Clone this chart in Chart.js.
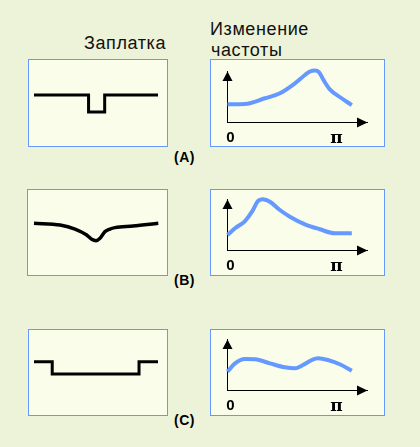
<!DOCTYPE html>
<html><head><meta charset="utf-8">
<script src="https://cdn.jsdelivr.net/npm/chart.js@4"></script>
<style>
html,body{margin:0;padding:0;}
body{width:420px;height:447px;background:#ecf3d8;position:relative;overflow:hidden;font-family:"Liberation Sans",Arial,sans-serif;}
.box{position:absolute;box-sizing:border-box;border:1px solid #6699ff;background:#fafde9;}
.box canvas{position:absolute;left:-1px;top:-1px;}
.t{position:absolute;white-space:nowrap;color:#111;font-size:18px;line-height:18px;letter-spacing:0.6px;}
.lab{position:absolute;white-space:nowrap;color:#000;font-weight:bold;font-size:14px;line-height:14px;letter-spacing:0.5px;}
</style></head>
<body>
<div class="t" style="left:84px;top:34px">Заплатка</div>
<div class="t" style="left:210px;top:20px">Изменение</div>
<div class="t" style="left:211px;top:41px">частоты</div>
<div class="lab" style="left:174px;top:150px">(A)</div>
<div class="lab" style="left:174px;top:273px">(B)</div>
<div class="lab" style="left:174px;top:413px">(C)</div>

<div class="box" style="left:28px;top:59px;width:140px;height:88px"><canvas id="pA" width="140" height="88"></canvas></div>
<div class="box" style="left:210px;top:59px;width:175px;height:88px"><canvas id="fA" width="175" height="88"></canvas></div>
<div class="box" style="left:27px;top:189px;width:141px;height:87px"><canvas id="pB" width="141" height="87"></canvas></div>
<div class="box" style="left:210px;top:189px;width:175px;height:87px"><canvas id="fB" width="175" height="87"></canvas></div>
<div class="box" style="left:28px;top:329px;width:140px;height:87px"><canvas id="pC" width="140" height="87"></canvas></div>
<div class="box" style="left:210px;top:329px;width:175px;height:87px"><canvas id="fC" width="175" height="87"></canvas></div>

<script>
// Patch profiles (position along the line 0..1, relative depth)
const PATCH_A_X = [0, 0.44, 0.44, 0.57, 0.57, 1];
const PATCH_A_Y = [0, 0, -1, -1, 0, 0];
const PATCH_B_X = [0, 0.21, 0.33, 0.424, 0.464, 0.499, 0.531, 0.571, 0.611, 0.652, 0.796, 1];
const PATCH_B_Y = [0, -0.1, -0.33, -0.67, -0.92, -1, -0.86, -0.48, -0.33, -0.25, -0.16, 0];
const PATCH_C_X = [0, 0.147, 0.147, 0.847, 0.847, 1];
const PATCH_C_Y = [0, 0, -1, -1, 0, 0];

// Frequency change curves (frequency in units of pi, relative change)
const FREQ_A_X = [0, 0.165, 0.353, 0.494, 0.636, 0.730, 0.777, 0.824, 0.862, 0.909, 0.965, 1.059, 1.172];
const FREQ_A_Y = [0.357, 0.363, 0.475, 0.573, 0.769, 0.931, 1.0, 1.02, 0.99, 0.82, 0.65, 0.5, 0.34];
const FREQ_B_X = [0, 0.071, 0.165, 0.231, 0.287, 0.334, 0.400, 0.494, 0.588, 0.730, 0.871, 1.012, 1.172];
const FREQ_B_Y = [0.304, 0.435, 0.578, 0.761, 0.97, 1.004, 0.957, 0.794, 0.663, 0.514, 0.416, 0.337, 0.337];
const FREQ_C_X = [0, 0.071, 0.165, 0.259, 0.400, 0.541, 0.636, 0.711, 0.796, 0.852, 0.946, 1.059, 1.172];
const FREQ_C_Y = [0.369, 0.533, 0.618, 0.612, 0.533, 0.455, 0.435, 0.5, 0.598, 0.631, 0.598, 0.514, 0.388];

const TICK_VALUES = [0, 1];
const TICK_LABELS = ['0', 'π'];

function pts(xs, ys){ return xs.map((x, i) => ({x: x, y: ys[i]})); }

const arrowPlugin = {
  id: 'arrows',
  afterDraw(chart){
    const a = chart.chartArea, ctx = chart.ctx;
    ctx.save();
    ctx.fillStyle = '#000';
    ctx.beginPath();
    ctx.moveTo(a.left, a.top);
    ctx.lineTo(a.left - 5, a.top + 9.5);
    ctx.lineTo(a.left + 5, a.top + 9.5);
    ctx.closePath(); ctx.fill();
    ctx.beginPath();
    ctx.moveTo(a.right, a.bottom);
    ctx.lineTo(a.right - 10.5, a.bottom - 5);
    ctx.lineTo(a.right - 10.5, a.bottom + 5);
    ctx.closePath(); ctx.fill();
    ctx.restore();
  }
};

const common = {
  responsive: false, animation: false, events: [], devicePixelRatio: 1,
  plugins: {legend: {display: false}, tooltip: {enabled: false}}
};

function patchChart(id, xs, ys, pad, smooth, width){
  new Chart(document.getElementById(id), {
    type: 'line',
    data: {datasets: [{
      data: pts(xs, ys), borderColor: '#000', borderWidth: width, pointRadius: 0,
      cubicInterpolationMode: smooth ? 'monotone' : 'default', tension: 0,
      fill: false, clip: false, borderJoinStyle: 'miter', borderCapStyle: 'butt'
    }]},
    options: Object.assign({}, common, {
      layout: {padding: pad},
      scales: {
        x: {type: 'linear', display: false, min: 0, max: 1},
        y: {type: 'linear', display: false, min: -1, max: 0}
      }
    })
  });
}

function freqChart(id, xs, ys, pad, axisH){
  new Chart(document.getElementById(id), {
    type: 'line',
    data: {datasets: [{
      data: pts(xs, ys), borderColor: '#6699ff', borderWidth: 4, pointRadius: 0,
      cubicInterpolationMode: 'monotone', fill: false, clip: false
    }]},
    options: Object.assign({}, common, {
      layout: {padding: pad},
      scales: {
        x: {
          type: 'linear', min: 0, max: 1.32,
          grid: {display: false, drawTicks: false},
          border: {display: true, color: '#000', width: 1},
          afterFit(s){ s.height = axisH; },
          afterBuildTicks(s){ s.ticks = TICK_VALUES.map(v => ({value: v})); },
          ticks: {
            autoSkip: false, maxRotation: 0, minRotation: 0, labelOffset: 3, padding: 6, color: '#000',
            font: (c) => c.index === 0
              ? {family: 'Liberation Sans', size: 15, weight: 'bold'}
              : {family: 'DejaVu Serif', size: 17, weight: 'bold'},
            callback: (v, i) => TICK_LABELS[i]
          }
        },
        y: {
          type: 'linear', min: 0, max: 1,
          grid: {display: false, drawTicks: false},
          border: {display: true, color: '#000', width: 1},
          ticks: {display: false},
          afterFit(s){ s.width = 0; }
        }
      }
    }),
    plugins: [arrowPlugin]
  });
}

patchChart('pA', PATCH_A_X, PATCH_A_Y, {left: 6, right: 10, top: 36, bottom: 35}, false, 3);
patchChart('pB', PATCH_B_X, PATCH_B_Y, {left: 7, right: 9.7, top: 34.3, bottom: 35.3}, true, 3.5);
patchChart('pC', PATCH_C_X, PATCH_C_Y, {left: 6, right: 10, top: 32.7, bottom: 42}, false, 3);

freqChart('fA', FREQ_A_X, FREQ_A_Y, {left: 17.5, right: 17.5, top: 12.5, bottom: 0}, 24.5);
freqChart('fB', FREQ_B_X, FREQ_B_Y, {left: 17.5, right: 17.5, top: 10.5, bottom: 0}, 25.5);
freqChart('fC', FREQ_C_X, FREQ_C_Y, {left: 17.5, right: 17.5, top: 10.5, bottom: 0}, 25.5);
</script>
</body></html>
